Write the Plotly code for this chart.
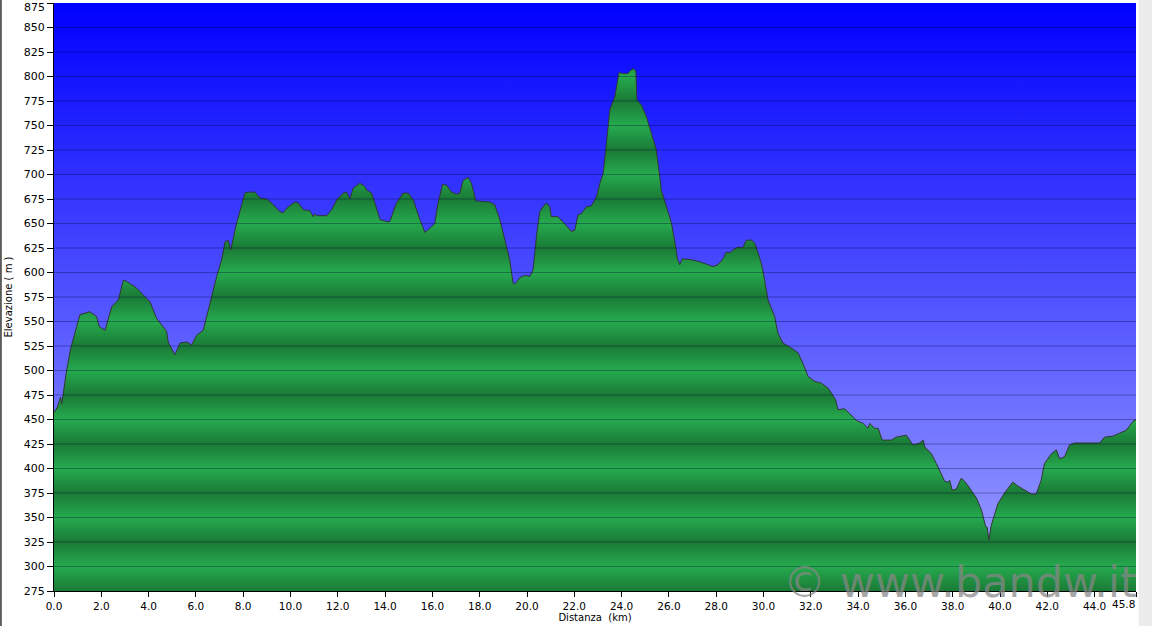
import plotly.graph_objects as go

# ---------------- data ----------------
DIST_KM = [
    0.00, 0.13, 0.28, 0.33, 0.50, 0.70, 0.96, 1.10, 1.52, 1.80, 1.91, 2.16, 2.44, 2.72, 2.93, 3.07,
    3.50, 4.06, 4.34, 4.76, 4.83, 5.11, 5.33, 5.61, 5.82, 6.03, 6.31, 6.59, 6.88, 7.09, 7.23, 7.37,
    7.47, 7.72, 8.07, 8.21, 8.50, 8.71, 8.99, 9.20, 9.55, 9.69, 9.90, 10.19, 10.33, 10.54, 10.82,
    10.96, 11.03, 11.10, 11.53, 11.74, 11.95, 12.23, 12.37, 12.51, 12.65, 12.93, 13.14, 13.22,
    13.43, 13.57, 13.78, 14.06, 14.20, 14.48, 14.76, 14.98, 15.19, 15.47, 15.68, 15.89, 16.10,
    16.24, 16.43, 16.60, 16.81, 17.02, 17.16, 17.30, 17.51, 17.65, 17.84, 18.43, 18.64, 18.85,
    19.06, 19.27, 19.41, 19.48, 19.70, 19.91, 20.12, 20.26, 20.40, 20.54, 20.68, 20.82, 20.96,
    21.03, 21.31, 21.67, 21.88, 22.02, 22.16, 22.30, 22.51, 22.72, 22.94, 23.08, 23.22, 23.36,
    23.50, 23.71, 23.89, 24.06, 24.27, 24.37, 24.48, 24.60, 24.65, 24.84, 25.05, 25.26, 25.47,
    25.61, 25.68, 25.90, 26.11, 26.29, 26.36, 26.46, 26.57, 26.95, 27.30, 27.65, 27.86, 28.08,
    28.29, 28.43, 28.57, 28.71, 28.92, 29.11, 29.28, 29.49, 29.63, 29.77, 29.91, 30.05, 30.19,
    30.47, 30.61, 30.82, 31.11, 31.46, 31.67, 31.88, 32.16, 32.45, 32.73, 32.87, 33.05, 33.15,
    33.43, 33.64, 33.93, 34.21, 34.42, 34.49, 34.70, 34.85, 35.02, 35.40, 35.61, 36.04, 36.18,
    36.32, 36.60, 36.75, 36.82, 37.10, 37.31, 37.52, 37.66, 37.80, 37.87, 37.98, 38.15, 38.36,
    38.50, 38.72, 39.00, 39.21, 39.32, 39.39, 39.46, 39.53, 39.63, 39.77, 39.91, 40.19, 40.54,
    40.76, 41.04, 41.32, 41.53, 41.74, 41.88, 42.17, 42.38, 42.52, 42.73, 42.94, 43.15, 43.58,
    44.21, 44.42, 44.77, 45.05, 45.34, 45.62, 45.75,
]
ELEV_M = [
    457, 462, 473, 466, 495, 522, 545, 557, 560, 555, 545, 541, 565, 572, 592, 591,
    584, 570, 553, 540, 529, 516, 528, 529, 526, 536, 541, 569, 596, 613, 631, 633,
    623, 650, 681, 682, 682, 676, 675, 671, 662, 661, 667, 672, 671, 664, 663,
    657, 660, 658, 658, 664, 674, 681, 682, 675, 686, 691, 688, 684,
    681, 671, 654, 652, 652, 671, 681, 681, 674, 654, 641, 645, 650,
    671, 690, 689, 682, 680, 681, 694, 697, 691, 673, 672, 669, 654,
    633, 613, 589, 588, 595, 597, 596, 603, 637, 662, 667, 671, 667,
    657, 657, 648, 642, 643, 659, 660, 667, 668, 677, 691, 701, 732,
    766, 779, 804, 803, 803, 806, 808, 806, 776, 771, 759, 742, 725,
    698, 684, 667, 650, 626, 614, 608, 614, 613, 611, 608, 606, 608,
    614, 621, 620, 623, 626, 625, 633, 633, 630, 620, 609, 592, 572,
    555, 538, 528, 524, 518, 507, 494, 489, 487, 482, 477, 470, 460,
    461, 456, 449, 446, 441, 446, 441, 441, 429, 429, 432, 434, 429,
    424, 426, 429, 422, 415, 405, 395, 387, 386, 388, 378, 379, 390,
    387, 380, 370, 358, 349, 341, 340, 327, 342, 354, 364, 375, 386,
    382, 378, 374, 374, 388, 405, 415, 419, 410, 412, 424, 426, 426,
    426, 432, 433, 436, 439, 448, 450,
]
Y_TICKS = list(range(275, 876, 25))
Y_TICK_LABELS = [str(v) for v in Y_TICKS]
X_TICKS = [0, 2, 4, 6, 8, 10, 12, 14, 16, 18, 20, 22, 24, 26, 28, 30, 32, 34, 36, 38, 40, 42, 44]
X_TICK_LABELS = [f"{v:.1f}" for v in X_TICKS]
X_END = 45.75
X_END_LABEL = "45.8"
Y_MIN, Y_MAX = 275, 875

X_TITLE = "Distanza  (km)"
Y_TITLE = "Elevazione ( m )"
WATERMARK = "© www.bandw.it"

# ---------------- styling ----------------
FONT = "DejaVu Sans, Verdana, sans-serif"
GREEN_DARK = "rgb(26,122,54)"
GREEN_LIGHT = "rgb(38,170,78)"

n_half = int((Y_MAX - Y_MIN) / 25)
green_scale = [[k / n_half, GREEN_DARK if k % 2 == 0 else GREEN_LIGHT] for k in range(n_half + 1)]

fig = go.Figure()

# sky background
fig.add_trace(go.Scatter(
    x=[0, X_END], y=[Y_MAX, Y_MAX], mode="lines", fill="tozeroy",
    line=dict(width=0),
    fillgradient=dict(type="vertical", start=Y_MIN, stop=Y_MAX,
                      colorscale=[[0, "rgb(160,164,255)"], [1, "rgb(0,0,255)"]]),
    hoverinfo="skip", showlegend=False,
))

# elevation profile
fig.add_trace(go.Scatter(
    x=DIST_KM, y=ELEV_M, mode="lines", fill="tozeroy",
    line=dict(color="rgb(50,55,50)", width=1),
    fillgradient=dict(type="vertical", start=Y_MIN, stop=Y_MAX, colorscale=green_scale),
    showlegend=False, name="Elevazione",
))

# horizontal grid lines drawn over the fill
for v in Y_TICKS[1:-1]:
    fig.add_shape(type="line", xref="paper", x0=0, x1=1, yref="y", y0=v, y1=v,
                  line=dict(color="rgba(0,0,50,0.33)", width=1), layer="above")

# frame decorations of the original picture
fig.add_shape(type="rect", xref="paper", yref="paper", x0=1.0025, x1=1.02, y0=-0.07, y1=1.01,
              fillcolor="rgb(236,236,236)", line=dict(width=0), layer="above")
fig.add_shape(type="rect", xref="paper", yref="paper", x0=-0.06, x1=-0.0482, y0=-0.07, y1=1.01,
              fillcolor="rgb(90,90,90)", line=dict(width=0), layer="above")

# top y label nudged down so it stays inside the picture, last x label right-aligned
fig.add_annotation(text=Y_TICK_LABELS[-1], xref="paper", x=0, xanchor="right", xshift=-7,
                   yref="y", y=Y_MAX, yanchor="middle", yshift=-4, showarrow=False,
                   font=dict(family=FONT, size=11, color="black"))
fig.add_annotation(text=X_END_LABEL, xref="x", x=X_END, xanchor="right", xshift=1,
                   yref="paper", y=0, yanchor="top", yshift=-5, showarrow=False,
                   font=dict(family=FONT, size=10.5, color="black"))

fig.add_annotation(text=WATERMARK, xref="paper", x=0.837, xanchor="center",
                   yref="paper", y=0.0145, yanchor="middle", showarrow=False,
                   font=dict(family=FONT, size=43, color="rgba(135,135,135,0.72)"))

fig.update_layout(
    width=1152, height=626, autosize=False,
    margin=dict(l=54, r=16, t=3, b=35),
    paper_bgcolor="white", plot_bgcolor="white",
    font=dict(family=FONT, size=11, color="black"),
    showlegend=False,
    xaxis=dict(range=[0, X_END], tickvals=X_TICKS + [X_END], ticktext=X_TICK_LABELS + [""],
               automargin=False, tickfont=dict(size=10.5),
               showgrid=False, zeroline=False, showline=True, linecolor="black", linewidth=1,
               ticks="outside", ticklen=5, tickcolor="black", tickangle=0,
               title=dict(text=X_TITLE, font=dict(size=10), standoff=2)),
    yaxis=dict(range=[Y_MIN, Y_MAX], tickvals=Y_TICKS, ticktext=Y_TICK_LABELS[:-1] + [""],
               automargin=False,
               showgrid=False, zeroline=False, showline=True, linecolor="black", linewidth=1,
               ticks="outside", ticklen=6, tickcolor="black",
               title=dict(text=Y_TITLE, font=dict(size=10), standoff=9)),
)

fig.write_html("out.html", config={"displayModeBar": False},
               post_script="document.body.style.margin='0';document.body.style.padding='0';")
